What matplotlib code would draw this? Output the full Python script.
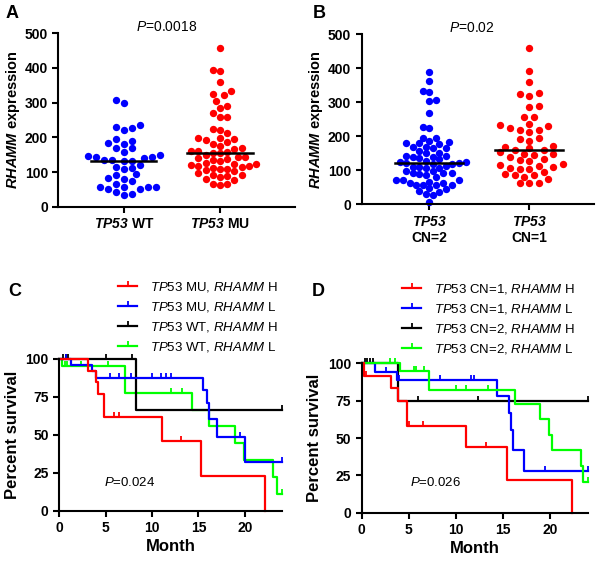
import numpy as np
import matplotlib.pyplot as plt
from matplotlib.path import Path
from matplotlib.lines import Line2D

plt.rcParams['font.family'] = ['Liberation Sans', 'DejaVu Sans']
plt.rcParams['mathtext.fontset'] = 'custom'
plt.rcParams['mathtext.rm'] = 'Liberation Sans:weight=normal'
plt.rcParams['mathtext.it'] = 'Liberation Sans:style=italic:weight=normal'
plt.rcParams['mathtext.bf'] = 'Liberation Sans:weight=bold'
plt.rcParams['mathtext.bfit'] = 'Liberation Sans:style=italic:weight=bold'

# ---- scatter data (RHAMM expression) ----
wt_vals = [307, 300, 236, 229, 226, 221, 194, 189, 184, 182, 168, 168, 158, 148, 147,
           144, 142, 139, 135, 135, 131, 132, 120, 115, 111, 108, 93, 90, 82, 81, 74,
           65, 57, 57, 57, 57, 50, 50, 42, 37, 33]
mu_vals = [459, 395, 391, 359, 333, 324, 321, 304, 290, 285, 269, 258, 258, 225, 221,
           213, 199, 198, 194, 192, 188, 180, 175, 169, 167, 160, 160, 158, 156, 154,
           149, 144, 144, 139, 137, 135, 131, 127, 124, 122, 120, 117, 117, 114, 112,
           110, 108, 105, 103, 96, 91, 91, 89, 86, 80, 76, 65, 65, 62]
cn2_vals = [390, 364, 333, 330, 307, 305, 268, 226, 225, 196, 194, 187, 184, 181, 179,
            177, 170, 168, 165, 165, 158, 152, 150, 143, 142, 140, 140, 135, 132, 128,
            125, 123, 121, 121, 119, 119, 114, 111, 111, 108, 106, 99, 99, 91, 91, 91,
            89, 85, 80, 72, 72, 72, 67, 64, 62, 57, 57, 57, 57, 47, 45, 40, 37, 30, 27, 8]
cn1_vals = [459, 393, 359, 326, 324, 319, 289, 285, 258, 256, 235, 233, 230, 225, 220,
            220, 212, 196, 192, 187, 171, 169, 165, 160, 160, 153, 148, 148, 145, 138,
            133, 130, 128, 118, 116, 113, 111, 106, 103, 103, 96, 89, 86, 86, 81, 74,
            64, 64, 64]
a_labels = [r'$\mathbfit{TP53}$ WT', r'$\mathbfit{TP53}$ MU']
b_labels = [r'$\mathbfit{TP53}$' + '\nCN=2', r'$\mathbfit{TP53}$' + '\nCN=1']

# ---- survival data (step times, percent survival, censor times) ----
c_red_t = [0, 3.15, 4.0, 4.2, 4.8, 11.1, 15.3, 22.2]
c_red_s = [100, 92.3, 84.6, 76.9, 61.5, 46.2, 23.1, 0]
c_red_cens = [5.9, 6.4, 13.1]
c_blue_t = [0, 1.3, 3.6, 4.0, 15.5, 15.9, 16.1, 17.0, 20.0]
c_blue_s = [100, 96, 92, 87.5, 79.5, 71, 60.5, 48.3, 32.2]
c_blue_cens = [0.8, 5.5, 6.45, 7.7, 10.0, 11.0, 11.5, 12.0, 19.5, 24]
c_black_t = [0, 8.3]
c_black_s = [100, 66.7]
c_black_cens = [0.4, 0.7, 1.0, 5.1, 7.9, 24]
c_green_t = [0, 0.3, 7.1, 14.3, 16.1, 18.9, 19.9, 23.0, 23.4]
c_green_s = [100, 95.5, 77.8, 66.7, 55.6, 44.4, 33.3, 22.2, 11.1]
c_green_cens = [0.6, 0.9, 2.4, 5.3, 12.0, 13.2, 24]

d_red_t = [0, 0.25, 3.1, 3.9, 4.8, 11.1, 15.4, 22.3]
d_red_s = [100, 91.7, 83.3, 75, 58.3, 43.8, 21.9, 0]
d_red_cens = [0.5, 5.05, 6.55, 13.2]
d_blue_t = [0, 1.4, 3.7, 14.4, 15.6, 15.8, 16.1, 17.2]
d_blue_s = [100, 94.4, 88.9, 77.8, 66.7, 55.6, 41.7, 27.8]
d_blue_cens = [1.45, 2.6, 4.0, 8.3, 11.6, 11.9, 19.45, 24]
d_black_t = [0, 3.9]
d_black_s = [100, 75]
d_black_cens = [0.3, 0.6, 0.9, 1.2, 6.0, 12.3, 24]
d_green_t = [0, 4.1, 7.1, 16.3, 18.9, 19.9, 20.2, 23.3, 23.5]
d_green_s = [100, 94.7, 82.2, 73.0, 62.5, 52.1, 41.7, 31.3, 20.8]
d_green_cens = [3.0, 3.5, 5.5, 5.8, 6.6, 10.0, 11.1, 13.4, 24]

c_legend = [r'$\mathit{TP53}$ MU, $\mathit{RHAMM}$ H', r'$\mathit{TP53}$ MU, $\mathit{RHAMM}$ L',
            r'$\mathit{TP53}$ WT, $\mathit{RHAMM}$ H', r'$\mathit{TP53}$ WT, $\mathit{RHAMM}$ L']
d_legend = [r'$\mathit{TP53}$ CN=1, $\mathit{RHAMM}$ H', r'$\mathit{TP53}$ CN=1, $\mathit{RHAMM}$ L',
            r'$\mathit{TP53}$ CN=2, $\mathit{RHAMM}$ H', r'$\mathit{TP53}$ CN=2, $\mathit{RHAMM}$ L']

RED, BLUE, BLACK, GREEN = '#ff0000', '#0000ff', '#000000', '#00ff00'
W, H = 600, 561
fig = plt.figure(figsize=(W / 100, H / 100), dpi=100)


def box(l, r, t, b):
    return [l / W, 1 - b / H, (r - l) / W, (b - t) / H]


def style(ax):
    for s in ['top', 'right']:
        ax.spines[s].set_visible(False)
    for s in ['left', 'bottom']:
        ax.spines[s].set_linewidth(1.5)
    ax.tick_params(width=1.5, length=4, labelsize=10)


def bold_ticks(ax):
    for lab in ax.get_xticklabels() + ax.get_yticklabels():
        lab.set_fontweight('bold')


def swarm(ax, vals, step_px, dia_px):
    yp = ax.transData.transform(np.column_stack([np.zeros(len(vals)), vals]))[:, 1]
    order = np.argsort(vals)
    px, py = [], []
    offs = np.zeros(len(vals))
    side = 1
    for i in order:
        cands = [0.0]
        for k in range(1, 30):
            cands += [side * k * step_px / 2, -side * k * step_px / 2]
        for c in cands:
            if len(px) == 0 or np.all((np.array(px) - c) ** 2 + (np.array(py) - yp[i]) ** 2 >= dia_px ** 2):
                offs[i] = c
                break
        if offs[i] != 0:
            side = -side
        px.append(offs[i])
        py.append(yp[i])
    return offs * (np.diff(ax.get_xlim())[0] / ax.bbox.width)


def dot_panel(ax, groups, colors, steps, dias, labels, xlim):
    style(ax)
    ax.set_xlim(*xlim)
    ax.set_ylim(0, 500)
    ax.set_yticks(range(0, 501, 100))
    ax.set_xticks(range(len(groups)))
    ax.set_xticklabels(labels, fontsize=10)
    bold_ticks(ax)
    for i, (vals, col, st, dia) in enumerate(zip(groups, colors, steps, dias)):
        vals = np.array(vals, dtype=float)
        dx = swarm(ax, vals, st, dia)
        ax.scatter(i + dx, vals, s=28, color=col, linewidths=0, zorder=2, clip_on=False)
        med = np.median(vals)
        ax.plot([i - 0.34, i + 0.34], [med, med], color='black', lw=1.8, zorder=3)
    ax.set_ylabel(r'$\mathbfit{RHAMM}$ expression', fontsize=10.5, fontweight='bold', labelpad=2)


axA = fig.add_axes(box(58.3, 295, 33.3, 206.7))
dot_panel(axA, [wt_vals, mu_vals], [BLUE, RED], [8.0, 7.2], [7.2, 7.0], a_labels, (-0.68, 1.78))
axB = fig.add_axes(box(361.5, 594, 34.3, 204.3))
dot_panel(axB, [cn2_vals, cn1_vals], [BLUE, RED], [6.6, 9.6], [6.6, 7.2], b_labels, (-0.68, 1.65))

tick = Path([(0, 0), (0, 1)], [Path.MOVETO, Path.LINETO])


def km(ax, t, s, t_end, cens, color):
    t = np.array(t, dtype=float)
    s = np.array(s, dtype=float)
    ax.step(np.append(t, t_end), np.append(s, s[-1]), where='post', color=color,
            lw=1.6, clip_on=False)
    if len(cens):
        idx = np.searchsorted(t, cens, side='right') - 1
        ax.plot(cens, s[idx], ls='none', marker=tick, ms=7, mew=1.3, color=color,
                clip_on=False)


def km_panel(ax, curves, labels, leg_xy):
    style(ax)
    ax.set_xlim(0, 24)
    ax.set_ylim(0, 100)
    ax.set_xticks(range(0, 21, 5))
    ax.set_yticks(range(0, 101, 25))
    bold_ticks(ax)
    for c in curves:
        km(ax, *c)
    ax.set_ylabel('Percent survival', fontsize=12, fontweight='bold', labelpad=4)
    ax.set_xlabel('Month', fontsize=12, fontweight='bold', labelpad=3)
    handles = [Line2D([], [], color=col, lw=1.6, marker=tick, ms=7, mew=1.3)
               for col in [RED, BLUE, BLACK, GREEN]]
    ax.legend(handles, labels, loc='upper left', bbox_to_anchor=leg_xy,
              bbox_transform=fig.transFigure, frameon=False, numpoints=1,
              prop={'size': 9.5}, handlelength=1.45,
              handletextpad=1.0, labelspacing=0.45, borderpad=0, borderaxespad=0)


axC = fig.add_axes(box(59, 282.2, 359, 510.7))
km_panel(axC, [
    (c_green_t, c_green_s, 24, c_green_cens, GREEN),
    (c_black_t, c_black_s, 24, c_black_cens, BLACK),
    (c_blue_t, c_blue_s, 24, c_blue_cens, BLUE),
    (c_red_t, c_red_s, c_red_t[-1], c_red_cens, RED),
], c_legend, (118 / W, 1 - 280 / H))

axD = fig.add_axes(box(361.7, 587.8, 363.3, 512.7))
km_panel(axD, [
    (d_black_t, d_black_s, 24, d_black_cens, BLACK),
    (d_blue_t, d_blue_s, 24, d_blue_cens, BLUE),
    (d_green_t, d_green_s, 24, d_green_cens, GREEN),
    (d_red_t, d_red_s, d_red_t[-1], d_red_cens, RED),
], d_legend, (402 / W, 1 - 282 / H))

# p values and panel letters
fig.text(167 / W, 1 - 27 / H, r'$\mathit{P}$=0.0018', ha='center', va='center', fontsize=10)
fig.text(472 / W, 1 - 28 / H, r'$\mathit{P}$=0.02', ha='center', va='center', fontsize=10)
fig.text(130 / W, 1 - 483 / H, r'$\mathit{P}$=0.024', ha='center', va='center', fontsize=9.5)
fig.text(436 / W, 1 - 483 / H, r'$\mathit{P}$=0.026', ha='center', va='center', fontsize=9.5)
for lab, x, y in [('A', 12, 14), ('B', 319, 14), ('C', 15, 292), ('D', 318, 292)]:
    fig.text(x / W, 1 - y / H, lab, ha='center', va='center', fontsize=13, fontweight='bold')

fig.savefig('out.png', dpi=100)
